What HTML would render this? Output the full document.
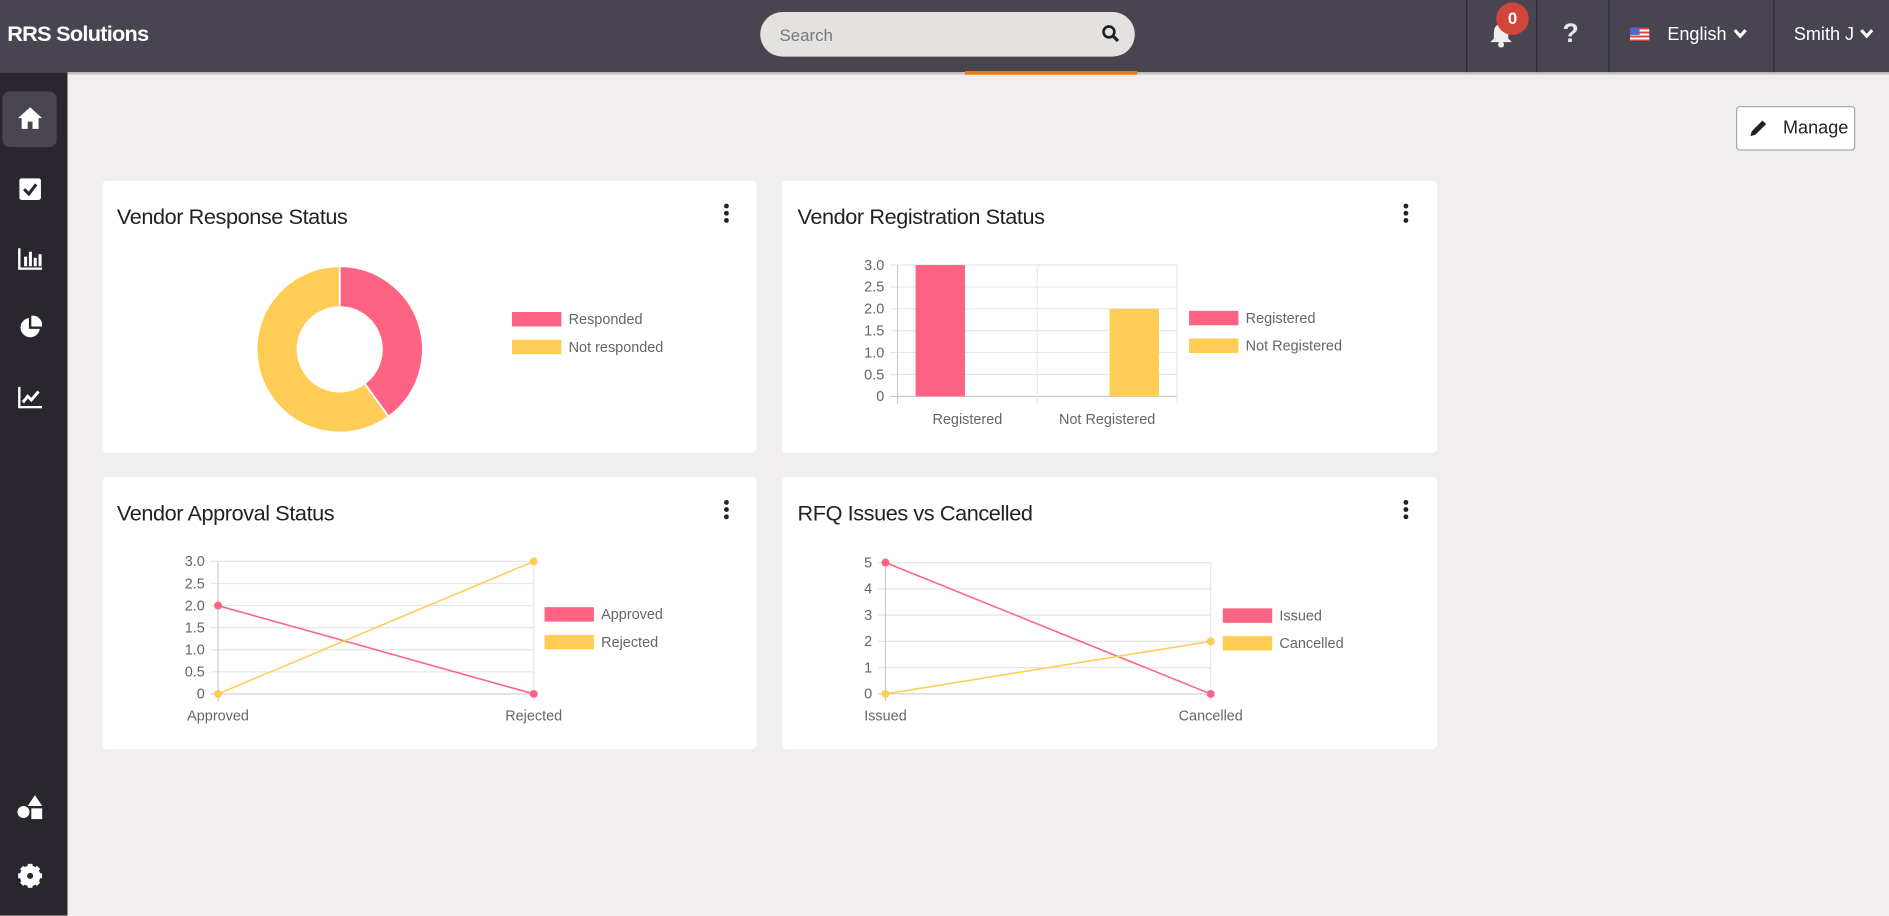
<!DOCTYPE html>
<html><head><meta charset="utf-8">
<style>
*{box-sizing:border-box;margin:0;padding:0}
html,body{width:1889px;height:916px;overflow:hidden;background:#f0eeee;font-family:"Liberation Sans",sans-serif}
#wrap{position:absolute;left:0;top:0;width:1568px;height:760px;transform:scale(1.20472);transform-origin:0 0;background:#f0eeee}
.abs{position:absolute}
#top{left:0;top:0;width:1568px;height:60px;background:#484550}
#side{left:0;top:60px;width:56px;height:700px;background:#29262d}
.card{position:absolute;background:#fff;border-radius:4px}
.ttl{position:absolute;left:12px;top:20px;font-size:18px;letter-spacing:-0.35px;color:#222}
.kebab{position:absolute;top:19px;width:4px}
.kebab i{display:block;width:4px;height:4px;border-radius:2px;background:#222;margin-bottom:2px}
.div{position:absolute;top:0;width:1px;height:60px;background:#2c2a30}
svg text{font-family:"Liberation Sans",sans-serif}
</style></head>
<body>
<div id="wrap">
<div id="top" class="abs">
  <div class="abs" style="left:6px;top:18px;font-size:18px;font-weight:bold;color:#fff;letter-spacing:-0.6px">RRS Solutions</div>
  <div class="abs" style="left:631px;top:10px;width:311px;height:37px;background:#e4e2e0;border-radius:19px">
    <span class="abs" style="left:16px;top:11px;font-size:14px;color:#777">Search</span>
    <svg class="abs" style="left:283px;top:10px" width="16" height="16"><circle cx="6.5" cy="6.5" r="4.5" fill="none" stroke="#222" stroke-width="2.2"/><line x1="10" y1="10" x2="14" y2="14" stroke="#222" stroke-width="2.6"/></svg>
  </div>
  <div class="div" style="left:1217px"></div><div class="div" style="left:1275px"></div><div class="div" style="left:1335px"></div><div class="div" style="left:1472px"></div>
  <svg class="abs" style="left:1236px;top:18px" width="20" height="22"><path d="M10 2 C5 2 4 6 4 10 L4 14 L1 17 L19 17 L16 14 L16 10 C16 6 15 2 10 2Z" fill="#eee"/><circle cx="10" cy="19" r="2.5" fill="#eee"/></svg>
  <div class="abs" style="left:1242px;top:2px;width:27px;height:27px;border-radius:50%;background:#d2453a;color:#fff;font-weight:bold;font-size:14px;text-align:center;line-height:27px">0</div>
  <div class="abs" style="left:1297px;top:15px;font-size:22px;font-weight:bold;color:#e8e8e8">?</div>
  <div class="abs" style="left:1353px;top:23px;width:16px;height:11px;background:repeating-linear-gradient(#d44 0 1.6px,#fff 1.6px 3.2px)"><div style="width:8px;height:6px;background:#5566cc"></div></div>
  <div class="abs" style="left:1384px;top:20px;font-size:15px;color:#fff">English</div>
  <svg class="abs" style="left:1438px;top:23px" width="13" height="10"><path d="M2 2 L6.5 7 L11 2" stroke="#fff" stroke-width="2.6" fill="none"/></svg>
  <div class="abs" style="left:1489px;top:20px;font-size:15px;color:#fff">Smith J</div>
  <svg class="abs" style="left:1543px;top:23px" width="13" height="10"><path d="M2 2 L6.5 7 L11 2" stroke="#fff" stroke-width="2.6" fill="none"/></svg>
</div>
<div class="abs" style="left:56px;top:60px;width:1512px;height:2px;background:#c8c6c6"></div>
<div class="abs" style="left:801px;top:59px;width:143px;height:3px;background:#ef7d0e"></div>
<div id="side" class="abs">
  <div class="abs" style="left:2px;top:16px;width:45px;height:46px;background:#4a4650;border-radius:6px">
    <svg class="abs" style="left:12px;top:12px" width="22" height="20"><path d="M11 1 L1 10 L4 10 L4 19 L9 19 L9 13 L13 13 L13 19 L18 19 L18 10 L21 10Z" fill="#fff"/></svg>
  </div>
  <svg class="abs" style="left:16px;top:88px" width="18" height="18"><rect x="0" y="0" width="18" height="18" rx="2" fill="#fff"/><path d="M4 9 L8 13 L14 5" stroke="#29262d" stroke-width="2.5" fill="none"/></svg>
  <svg class="abs" style="left:15px;top:146px" width="20" height="18"><path d="M1 0 V17 H20" stroke="#fff" stroke-width="2" fill="none"/><rect x="5" y="7" width="2.5" height="8" fill="#fff"/><rect x="9" y="3" width="2.5" height="12" fill="#fff"/><rect x="13" y="8" width="2.5" height="7" fill="#fff"/><rect x="17" y="5" width="2.5" height="10" fill="#fff"/></svg>
  <svg class="abs" style="left:15px;top:202px" width="20" height="20"><path d="M9 2 A8 8 0 1 0 18 11 L9 11Z" fill="#fff"/><path d="M11 0 A8 8 0 0 1 20 9 L11 9Z" fill="#fff"/></svg>
  <svg class="abs" style="left:15px;top:261px" width="20" height="18"><path d="M1 0 V17 H20" stroke="#fff" stroke-width="2" fill="none"/><path d="M4 13 L8 8 L11 11 L17 4" stroke="#fff" stroke-width="2.5" fill="none"/></svg>
  <svg class="abs" style="left:14px;top:600px" width="22" height="20"><circle cx="5.5" cy="14" r="5" fill="#fff"/><path d="M15 0 L21 9 L9 9Z" fill="#fff"/><rect x="12" y="11" width="9" height="9" fill="#fff"/></svg>
  <svg class="abs" style="left:15px;top:657px" width="20" height="20"><circle cx="10" cy="10" r="6.5" fill="none" stroke="#fff" stroke-width="4"/><g stroke="#fff" stroke-width="4"><line x1="10" y1="0" x2="10" y2="20"/><line x1="0" y1="10" x2="20" y2="10"/><line x1="3" y1="3" x2="17" y2="17"/><line x1="17" y1="3" x2="3" y2="17"/></g><circle cx="10" cy="10" r="2.5" fill="#29262d"/></svg>
</div>
<div class="abs" style="left:1441px;top:88px;width:99px;height:37px;background:#fff;border:1px solid #a9a9a9;border-radius:3px">
  <svg class="abs" style="left:9px;top:9px" width="17" height="17"><path d="M2 15 L3 11 L12 2 L15 5 L6 14Z" fill="#222"/></svg>
  <span class="abs" style="left:38px;top:9px;font-size:15px;color:#222">Manage</span>
</div>

<div class="card" style="left:85px;top:150px;width:543px;height:226px">
  <div class="ttl">Vendor Response Status</div>
  <div class="kebab" style="left:516px"><i></i><i></i><i></i></div>
</div>
<div class="card" style="left:649px;top:150px;width:544px;height:226px">
  <div class="ttl" style="left:13px">Vendor Registration Status</div>
  <div class="kebab" style="left:516px"><i></i><i></i><i></i></div>
</div>
<div class="card" style="left:85px;top:396px;width:543px;height:226px">
  <div class="ttl">Vendor Approval Status</div>
  <div class="kebab" style="left:516px"><i></i><i></i><i></i></div>
</div>
<div class="card" style="left:649px;top:396px;width:544px;height:226px">
  <div class="ttl" style="left:13px">RFQ Issues vs Cancelled</div>
  <div class="kebab" style="left:516px"><i></i><i></i><i></i></div>
</div>
<svg id="charts" class="abs" style="left:0;top:0" width="1568" height="760"></svg>
</div>
<script>
// Donut
const donutLabels = ["Responded", "Not responded"];
const donutValues = [2, 3];
// Bar chart
const barCategories = ["Registered", "Not Registered"];
const barValues = [3, 2];
const barTicks = ["0", "0.5", "1.0", "1.5", "2.0", "2.5", "3.0"];
// Approval line chart
const apprCategories = ["Approved", "Rejected"];
const apprApproved = [2, 0];
const apprRejected = [0, 3];
const apprTicks = ["0", "0.5", "1.0", "1.5", "2.0", "2.5", "3.0"];
// RFQ line chart
const rfqCategories = ["Issued", "Cancelled"];
const rfqIssued = [5, 0];
const rfqCancelled = [0, 2];
const rfqTicks = ["0", "1", "2", "3", "4", "5"];

const PINK = "#ff6384", YEL = "#ffcd56", GRID = "#e6e6e6", TXT = "#666";
const svg = document.getElementById("charts");
const NS = "http://www.w3.org/2000/svg";
function mk(tag, attrs, parent) {
  const e = document.createElementNS(NS, tag);
  for (const k in attrs) e.setAttribute(k, attrs[k]);
  (parent || svg).appendChild(e);
  return e;
}
function txt(x, y, s, anchor, g) {
  const t = mk("text", {x: x, y: y, "font-size": 12, fill: TXT, "text-anchor": anchor || "start"}, g);
  t.textContent = s;
  return t;
}
function legend(x, y, labels, colors, g) {
  labels.forEach((l, i) => {
    const r = mk("rect", {x: x, y: y + i * 23, width: 41, height: 12, fill: colors[i]}, g);
    
    
    const t = txt(x + 47, y + i * 23 + 10, l, "start", g);
    
    
  });
}
function axes(x0, x1, y0, y1, ticks, max, nCols, g) {
  const ys = v => y1 - (v / max) * (y1 - y0);
  ticks.forEach(t => {
    const v = parseFloat(t);
    mk("line", {x1: x0 - 6, x2: x1, y1: ys(v), y2: ys(v), stroke: v === 0 ? "#ccc" : GRID}, g);
    const tl = txt(x0 - 11, ys(v) + 4, t, "end", g);
    
    
  });
  for (let i = 0; i <= nCols; i++) {
    const x = x0 + (x1 - x0) * i / nCols;
    mk("line", {x1: x, x2: x, y1: y0, y2: y1 + 6, stroke: i === 0 ? "#ccc" : GRID}, g);
  }
  return ys;
}

(function () {
  const g = mk("g", {});
  
  
  const cx = 282, cy = 290, R = 69, r = 35;
  const total = donutValues.reduce((a, b) => a + b, 0);
  let a0 = -Math.PI / 2;
  const cols = [PINK, YEL];
  donutValues.forEach((v, i) => {
    const a1 = a0 + v / total * 2 * Math.PI;
    const large = (a1 - a0) > Math.PI ? 1 : 0;
    const p = (rad, a) => (cx + rad * Math.cos(a)) + " " + (cy + rad * Math.sin(a));
    const d = "M" + p(R, a0) + " A" + R + " " + R + " 0 " + large + " 1 " + p(R, a1) +
      " L" + p(r, a1) + " A" + r + " " + r + " 0 " + large + " 0 " + p(r, a0) + "Z";
    const s = mk("path", {d: d, fill: cols[i], stroke: "#fff", "stroke-width": 1.5}, g);
    
    
    a0 = a1;
  });
  legend(425, 259, donutLabels, cols, g);
})();

(function () {
  const g = mk("g", {});
  
  
  const x0 = 745, x1 = 977, y0 = 220, y1 = 329;
  const ys = axes(x0, x1, y0, y1, barTicks, 3, barCategories.length, g);
  const bw = (x1 - x0) / barCategories.length;
  const cols = [PINK, YEL];
  barCategories.forEach((c, i) => {
    const bx = i === 0 ? x0 + 15 : x0 + bw * i + bw - 15 - 41;
    const b = mk("rect", {x: bx, y: ys(barValues[i]), width: 41, height: y1 - ys(barValues[i]), fill: cols[i]}, g);
    
    
    const t = txt(x0 + bw * i + bw / 2, 352, c, "middle", g);
    
    
  });
  legend(987, 258, barCategories, cols, g);
})();

function lineChart(name, x0, x1, y0, y1, ticks, max, cats, series, labels, lx) {
  const g = mk("g", {});
  
  
  const ys = axes(x0, x1, y0, y1, ticks, max, cats.length - 1, g);
  const xs = i => x0 + (x1 - x0) * i / (cats.length - 1);
  const cols = [PINK, YEL];
  series.forEach((s, si) => {
    const pts = s.map((v, i) => xs(i) + "," + ys(v)).join(" ");
    const pl = mk("polyline", {points: pts, fill: "none", stroke: cols[si], "stroke-width": 1.3}, g);
    
    
    s.forEach((v, i) => {
      const c = mk("circle", {cx: xs(i), cy: ys(v), r: 3.3, fill: cols[si]}, g);
      
      
    });
  });
  cats.forEach((c, i) => {
    const t = txt(xs(i), y1 + 22, c, "middle", g);
    
    
  });
  legend(lx, y0 + 38, labels, cols, g);
}
lineChart("approval-line-chart", 181, 443, 466, 576, apprTicks, 3, apprCategories, [apprApproved, apprRejected], ["Approved", "Rejected"], 452);
lineChart("rfq-line-chart", 735, 1005, 467, 576, rfqTicks, 5, rfqCategories, [rfqIssued, rfqCancelled], ["Issued", "Cancelled"], 1015);
</script>
</body></html>
